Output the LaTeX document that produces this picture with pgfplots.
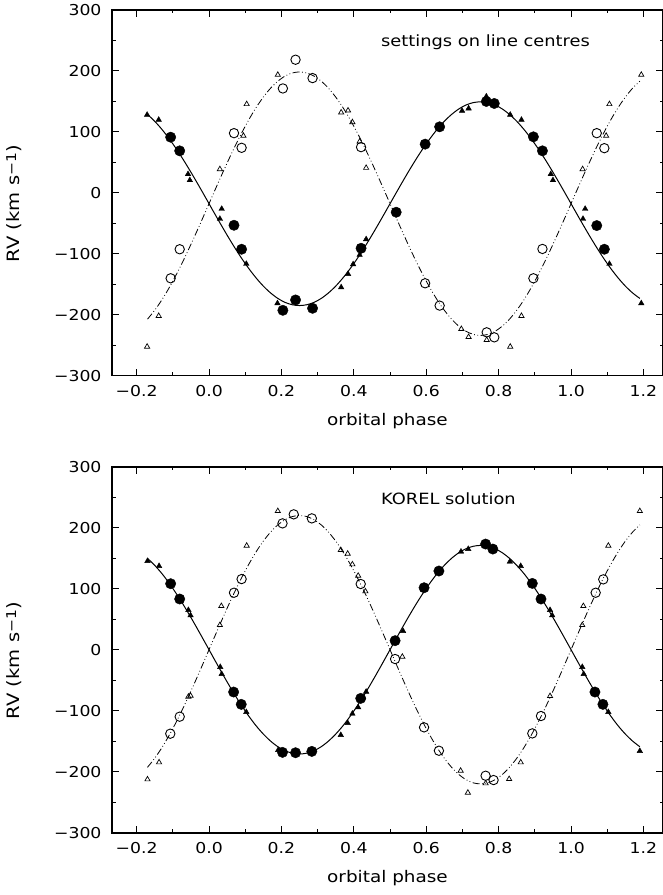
\documentclass[border=0pt]{standalone}
\usepackage{fontspec}
\setmainfont{DejaVu Sans}[FakeStretch=1.15]
\usepackage{pgfplots}
\usepackage{pgfplotstable}
\pgfplotsset{compat=1.18}

% fitted orbit curves: phase, primary/secondary (line centres), primary/secondary (KOREL)
\pgfplotstableread{
x p1 s1 p2 s2
-0.17 128.3 -207.3 149.8 -192.8
-0.15 117.1 -192.7 138.3 -178.0
-0.13 103.7 -175.5 124.7 -160.4
-0.11 88.4 -155.7 109.0 -140.2
-0.09 71.5 -133.7 91.6 -117.9
-0.07 53.1 -110.0 72.8 -93.7
-0.05 33.6 -84.7 52.8 -68.0
-0.03 13.3 -58.5 32.0 -41.2
-0.01 -7.5 -31.6 10.7 -13.8
0.01 -28.5 -4.4 -10.7 13.8
0.03 -49.3 22.5 -32.0 41.2
0.05 -69.6 48.7 -52.8 68.0
0.07 -89.1 74.0 -72.8 93.7
0.09 -107.5 97.7 -91.6 117.9
0.11 -124.4 119.7 -109.0 140.2
0.13 -139.7 139.5 -124.7 160.4
0.15 -153.1 156.7 -138.3 178.0
0.17 -164.3 171.3 -149.8 192.8
0.19 -173.3 182.8 -159.0 204.6
0.21 -179.8 191.2 -165.6 213.1
0.23 -183.7 196.3 -169.6 218.3
0.25 -185.0 198.0 -171.0 220.0
0.27 -183.7 196.3 -169.6 218.3
0.29 -179.8 191.2 -165.6 213.1
0.31 -173.3 182.8 -159.0 204.6
0.33 -164.3 171.3 -149.8 192.8
0.35 -153.1 156.7 -138.3 178.0
0.37 -139.7 139.5 -124.7 160.4
0.39 -124.4 119.7 -109.0 140.2
0.41 -107.5 97.7 -91.6 117.9
0.43 -89.1 74.0 -72.8 93.7
0.45 -69.6 48.7 -52.8 68.0
0.47 -49.3 22.5 -32.0 41.2
0.49 -28.5 -4.4 -10.7 13.8
0.51 -7.5 -31.6 10.7 -13.8
0.53 13.3 -58.5 32.0 -41.2
0.55 33.6 -84.7 52.8 -68.0
0.57 53.1 -110.0 72.8 -93.7
0.59 71.5 -133.7 91.6 -117.9
0.61 88.4 -155.7 109.0 -140.2
0.63 103.7 -175.5 124.7 -160.4
0.65 117.1 -192.7 138.3 -178.0
0.67 128.3 -207.3 149.8 -192.8
0.69 137.3 -218.8 159.0 -204.6
0.71 143.8 -227.2 165.6 -213.1
0.73 147.7 -232.3 169.6 -218.3
0.75 149.0 -234.0 171.0 -220.0
0.77 147.7 -232.3 169.6 -218.3
0.79 143.8 -227.2 165.6 -213.1
0.81 137.3 -218.8 159.0 -204.6
0.83 128.3 -207.3 149.8 -192.8
0.85 117.1 -192.7 138.3 -178.0
0.87 103.7 -175.5 124.7 -160.4
0.89 88.4 -155.7 109.0 -140.2
0.91 71.5 -133.7 91.6 -117.9
0.93 53.1 -110.0 72.8 -93.7
0.95 33.6 -84.7 52.8 -68.0
0.97 13.3 -58.5 32.0 -41.2
0.99 -7.5 -31.6 10.7 -13.8
1.01 -28.5 -4.4 -10.7 13.8
1.03 -49.3 22.5 -32.0 41.2
1.05 -69.6 48.7 -52.8 68.0
1.07 -89.1 74.0 -72.8 93.7
1.09 -107.5 97.7 -91.6 117.9
1.11 -124.4 119.7 -109.0 140.2
1.13 -139.7 139.5 -124.7 160.4
1.15 -153.1 156.7 -138.3 178.0
1.17 -164.3 171.3 -149.8 192.8
1.19 -173.3 182.8 -159.0 204.6
}\curves

\pgfplotsset{
  rvpanel/.style={
    scale only axis, width=551pt, height=366pt,
    xmin=-0.268, xmax=1.254, ymin=-300, ymax=300,
    axis line style={line width=1.6pt},
    xtick={-0.2,0,0.2,0.4,0.6,0.8,1.0,1.2},
    xticklabels={−0.2,0.0,0.2,0.4,0.6,0.8,1.0,1.2},
    ytick={-300,-200,-100,0,100,200,300},
    yticklabels={−300,−200,−100,0,100,200,300},
    minor x tick num=1, minor y tick num=1,
    major tick length=7pt, minor tick length=3.5pt,
    every tick/.style={black, line width=1pt},
    tick label style={font=\fontsize{15}{18}\selectfont},
    yticklabel style={xshift=-7pt},
    xticklabel style={yshift=-6pt},
    xlabel={orbital phase},
    xlabel style={font=\fontsize{16}{19}\selectfont, at={(axis description cs:0.5,0)}, anchor=center, yshift=-45pt},
    ylabel={RV (km s\raisebox{0.35ex}{\fontsize{13.5}{14}\selectfont −1})},
    ylabel style={font=\fontsize{17}{20}\selectfont, at={(axis description cs:-0.178,0.47)}, anchor=center},
    clip=false,
  },
  prim/.style={black, line width=1pt, smooth, no markers},
  sec/.style={black, line width=0.8pt, smooth, no markers,
    dash pattern=on 7pt off 2.5pt on 0.8pt off 2.5pt on 0.8pt off 2.5pt},
  fcirc/.style={only marks, mark=*, mark size=5.2pt, mark options={black, fill=black}},
  ocirc/.style={only marks, mark=o, mark size=4.7pt, mark options={black, line width=0.9pt}},
  ftri/.style={only marks, mark=triangle*, mark size=3.2pt, mark options={black, fill=black}},
  otri/.style={only marks, mark=triangle, mark size=3pt, mark options={black, line width=0.7pt}},
}

\begin{document}
\begin{tikzpicture}
\useasboundingbox (0,0) rectangle (662pt,895pt);

% ---- top: settings on line centres
\begin{axis}[rvpanel, at={(112pt,519.3pt)}, anchor=south west]
\addplot[prim] table[x=x, y=p1] {\curves};
\addplot[sec] table[x=x, y=s1] {\curves};
\addplot[fcirc] coordinates {(-0.106,91) (-0.081,68.6) (0.069,-53.4) (0.090,-92.7) (0.204,-192.8) (0.239,-175.8) (0.286,-189.5) (0.420,-91.1) (0.517,-32.0) (0.597,79.6) (0.637,108) (0.766,149.6) (0.788,146.3) (0.896,91.6) (0.921,68.6) (1.071,-53.9) (1.092,-92.7)};
\addplot[ocirc] coordinates {(-0.106,-140.3) (-0.081,-92.7) (0.069,97.6) (0.090,73.6) (0.204,170.9) (0.239,218) (0.286,187.9) (0.420,74.7) (0.597,-148.5) (0.637,-185.1) (0.767,-228.9) (0.788,-237.1) (0.896,-140.3) (0.921,-92.2) (1.071,97.6) (1.092,73)};
\addplot[ftri] coordinates {(-0.171,127.7) (-0.139,119.5) (-0.058,30.4) (-0.053,20.5) (0.030,-42.9) (0.035,-26.5) (0.103,-116.7) (0.189,-181.3) (0.365,-155.1) (0.384,-133.2) (0.398,-117.4) (0.416,-102) (0.434,-76.3) (0.699,134.2) (0.717,138.1) (0.766,157.7) (0.832,127.7) (0.863,119.5) (0.944,30.4) (0.950,20.5) (1.033,-42.9) (1.039,-26.5) (1.106,-116.7) (1.194,-181.3)};
\addplot[otri] coordinates {(-0.171,-252.4) (-0.139,-202) (0.030,38.6) (0.095,93.3) (0.104,145.2) (0.190,193.3) (0.365,131.5) (0.384,134.8) (0.396,115.6) (0.416,83.9) (0.434,40.7) (0.697,-223.4) (0.717,-236.5) (0.767,-241.4) (0.832,-252.4) (0.863,-202) (1.032,38.6) (1.097,93.3) (1.106,145.2) (1.194,193.3)};
\node[anchor=west, font=\fontsize{15.5}{18}\selectfont, inner sep=0pt] at (axis cs:0.475,247) {settings on line centres};
\end{axis}

% ---- bottom: KOREL solution
\begin{axis}[rvpanel, at={(112pt,62.3pt)}, anchor=south west]
\addplot[prim] table[x=x, y=p2] {\curves};
\addplot[sec] table[x=x, y=s2] {\curves};
\addplot[fcirc] coordinates {(-0.106,108.2) (-0.081,83.1) (0.068,-69.4) (0.089,-89.6) (0.203,-168.3) (0.239,-168.9) (0.284,-166.7) (0.419,-79.8) (0.514,14.8) (0.594,101.6) (0.635,129.0) (0.764,173.2) (0.784,165.0) (0.893,108.7) (0.917,83.1) (1.066,-69.4) (1.088,-89.6)};
\addplot[ocirc] coordinates {(-0.107,-137.7) (-0.081,-109.8) (0.069,93.4) (0.090,115.8) (0.203,207.1) (0.234,221.9) (0.284,215.3) (0.419,107.7) (0.514,-15.3) (0.594,-127.3) (0.635,-165.6) (0.764,-206.6) (0.786,-213.7) (0.893,-137.2) (0.917,-108.7) (1.068,93.4) (1.089,115.3)};
\addplot[ftri] coordinates {(-0.170,145.4) (-0.138,137.2) (-0.057,65.0) (-0.051,56.3) (0.031,-28.4) (0.035,-39.9) (0.103,-102.2) (0.191,-164.5) (0.364,-139.9) (0.383,-120.2) (0.396,-104.9) (0.412,-94.5) (0.434,-68.9) (0.536,30.6) (0.696,160.7) (0.716,165.0) (0.831,144.3) (0.861,137.2) (0.942,65.0) (0.948,56.3) (1.031,-28.4) (1.035,-39.9) (1.103,-102.2) (1.190,-166.1)};
\addplot[otri] coordinates {(-0.170,-212.6) (-0.138,-184.7) (-0.057,-77) (-0.051,-75.4) (0.030,40.4) (0.034,71.6) (0.104,170.5) (0.190,227.3) (0.364,163.4) (0.383,157.4) (0.396,139.9) (0.412,121.3) (0.432,95.6) (0.534,-11.5) (0.695,-198.4) (0.715,-234.4) (0.764,-219.1) (0.829,-212) (0.861,-184.7) (0.942,-76) (1.031,40.4) (1.034,71.6) (1.103,170.5) (1.190,227.3)};
\node[anchor=west, font=\fontsize{15.5}{18}\selectfont, inner sep=0pt] at (axis cs:0.475,247) {KOREL solution};
\end{axis}
\end{tikzpicture}
\end{document}
